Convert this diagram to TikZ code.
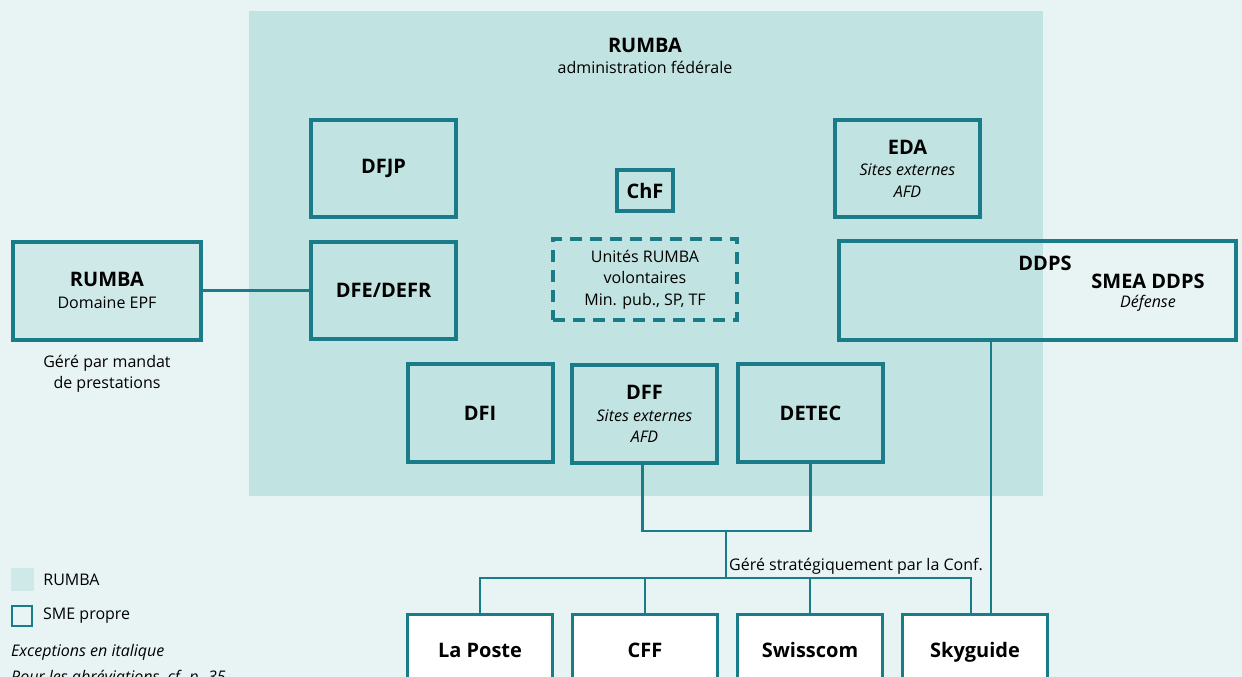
\documentclass[tikz,border=0pt]{standalone}
\usepackage{fontspec}
\setmainfont{Open Sans}
\usepackage{tikz}
\usetikzlibrary{positioning}

\definecolor{bgcol}{HTML}{E8F4F4}
\definecolor{rumbacol}{HTML}{C1E3E1}
\definecolor{epfcol}{HTML}{CFE8E8}
\definecolor{smecol}{HTML}{1A7B89}

\newcommand\headfont{\fontsize{20}{23}\selectfont\bfseries}
\newcommand\bodyfont{\fontsize{16}{21.5}\selectfont}

\tikzset{
  dept/.style={draw=smecol, line width=4pt, minimum width=145pt, minimum height=97pt,
               inner sep=0pt, align=center, font=\bodyfont},
  firm/.style={draw=smecol, fill=white, line width=3pt, minimum width=145pt, minimum height=72pt,
               inner sep=0pt, text height=17pt, text depth=3pt, font=\headfont},
  link/.style={draw=smecol, line width=2.5pt},
}

\begin{document}
\begin{tikzpicture}[x=1pt,y=-1pt]
\useasboundingbox [fill=bgcol] (0,0) rectangle (1242,677);
\node [fill=rumbacol, minimum width=794pt, minimum height=485pt, inner sep=0pt] (area) at (646,253.5) {};
\node [align=center, font=\bodyfont] (title) at (645,56) {{\headfont RUMBA}\\administration fédérale};

\node [dept] (dfjp) at (383.5,168.5) {\headfont DFJP};
\node [dept] (eda) at (907.5,168.5) {{\headfont EDA}\\\textit{Sites externes}\\\textit{AFD}};
\node [dept, minimum width=56pt, minimum height=41pt] (chf) at (645,190.5) {\headfont ChF};
\node [dept, dash pattern=on 12pt off 8pt, minimum width=184pt, minimum height=81pt] (units) at (645,279.5)
  {Unités RUMBA\\volontaires\\Min. pub., SP, TF};

\node [dept, fill=epfcol, minimum width=188pt, minimum height=98pt] (epf) at (107,290.5) {{\headfont RUMBA}\\Domaine EPF};
\node [align=center, font=\bodyfont] (mandat) at (107,374) {Géré par mandat\\de prestations};
\node [dept] (dfe) at (383.5,290.5) {\headfont DFE/DEFR};
\node [dept, minimum width=397pt, minimum height=99pt] (ddps) at (1037.5,290.5) {};
\node [font=\headfont] (ddpslabel) at (1045,263) {DDPS};
\node [font=\headfont] (smea) at (1148,281) {SMEA DDPS};
\node [font=\bodyfont\itshape] (defense) at (1148,303) {Défense};

\node [dept, minimum height=98pt] (dfi) at (480,413) {\headfont DFI};
\node [dept, minimum height=98pt] (dff) at (644.5,414) {{\headfont DFF}\\\textit{Sites externes}\\\textit{AFD}};
\node [dept, minimum height=98pt] (detec) at (810.5,413) {\headfont DETEC};

\node [firm] (poste) at (480,650) {La Poste};
\node [firm] (cff) at (645,650) {CFF};
\node [firm] (swisscom) at (810,650) {Swisscom};
\node [firm] (skyguide) at (975,650) {Skyguide};

% connectors
\coordinate (join) at (726,531);
\coordinate (conf) at (726,578);
\coordinate (ddpsline) at (991,0);
\draw [link] (epf) -- (dfe);
\draw [link] ([xshift=-2pt]dff.south) |- (join) -| (detec.south);
\draw [link] (join) -- (conf);
\draw [link] (poste.north) |- (conf) -| ([xshift=-4pt]skyguide.north);
\draw [link] (cff.north) -- (cff.north |- conf);
\draw [link] (swisscom.north) -- (swisscom.north |- conf);
\draw [link] (ddps.south -| ddpsline) -- (skyguide.north -| ddpsline);
\node [above right, inner sep=3pt, font=\bodyfont] (conflabel) at (conf) {Géré stratégiquement par la Conf.};

% legend
\node [fill=epfcol, minimum size=23pt, inner sep=0pt] (keyrumba) at (22.5,579.5) {};
\node [right=9pt of keyrumba, inner sep=0pt, font=\bodyfont] (keyrumbatext) {RUMBA};
\node [draw=smecol, line width=2pt, minimum size=20pt, inner sep=0pt] (keysme) at (22,615.5) {};
\node [right=10pt of keysme, inner sep=0pt, font=\bodyfont] (keysmetext) {SME propre};
\node [anchor=base west, inner sep=0pt, font=\bodyfont\itshape] (keyitalic) at (11,656) {Exceptions en italique};
\node [anchor=base west, inner sep=0pt, font=\bodyfont\itshape] (keyabbr) at (11,682) {Pour les abréviations, cf. p. 35};
\end{tikzpicture}
\end{document}
